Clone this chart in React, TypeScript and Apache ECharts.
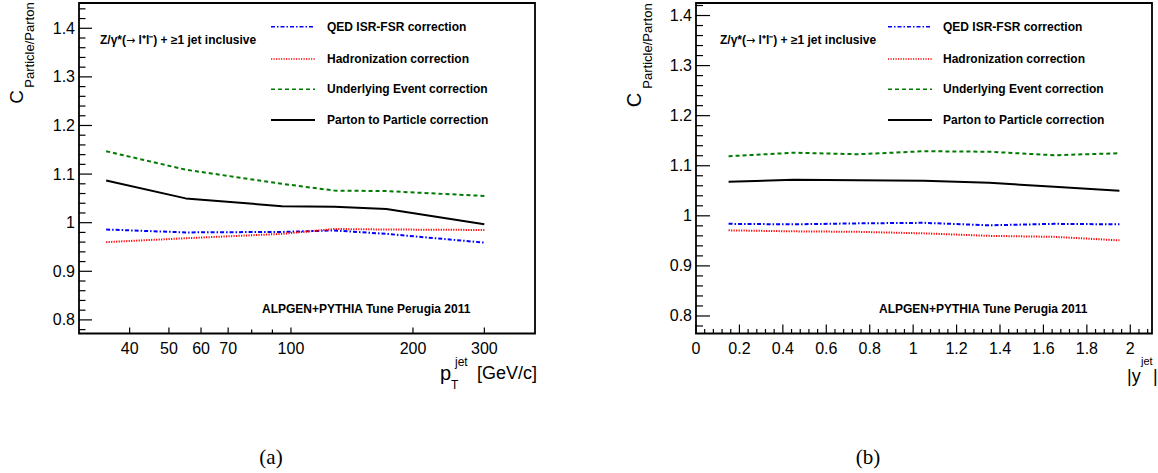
import React, { useEffect, useRef } from "react";
import * as echarts from "echarts";

// ---------- data: panel (a), vs jet pT ----------
const ptPoints = [35, 55, 95, 128, 172, 300];
const ptQED = [0.986, 0.980, 0.981, 0.984, 0.977, 0.959];
const ptHad = [0.960, 0.968, 0.977, 0.987, 0.986, 0.985];
const ptUE = [1.147, 1.109, 1.080, 1.066, 1.065, 1.055];
const ptP2P = [1.087, 1.050, 1.034, 1.033, 1.028, 0.997];

// ---------- data: panel (b), vs |y jet| ----------
const rapPoints = [0.15, 0.45, 0.75, 1.05, 1.35, 1.65, 1.95];
const rapQED = [0.984, 0.983, 0.985, 0.986, 0.981, 0.984, 0.983];
const rapHad = [0.971, 0.969, 0.968, 0.965, 0.960, 0.958, 0.951];
const rapUE = [1.119, 1.126, 1.123, 1.129, 1.128, 1.121, 1.125];
const rapP2P = [1.068, 1.072, 1.071, 1.070, 1.066, 1.058, 1.050];

// ---------- axis ticks ----------
const ptMajorTicks = [40, 50, 60, 70, 100, 200, 300];
const ptMinorTicks = [80, 90];
const rapMajorTicks = [0, 0.2, 0.4, 0.6, 0.8, 1, 1.2, 1.4, 1.6, 1.8, 2];
const yMajorTicks = [0.8, 0.9, 1, 1.1, 1.2, 1.3, 1.4];

const seriesNames = [
  "QED ISR-FSR correction",
  "Hadronization correction",
  "Underlying Event correction",
  "Parton to Particle correction",
];
const seriesColors = ["#0000ff", "#ff0000", "#007a00", "#000000"];
const seriesDash: any[] = [[4, 2, 1.5, 2], [1.2, 1.3], [4, 3], "solid"];

const L = { xMin: 30, xMax: 400, yMin: 0.772, yMax: 1.452 };
const R = { xMin: 0, xMax: 2.1, yMin: 0.765, yMax: 1.425 };

const SANS = "Liberation Sans, Arial, Helvetica, sans-serif";

function subdivide(majors: number[], n: number, lo: number, hi: number) {
  const step = (majors[1] - majors[0]) / n;
  const out: number[] = [];
  const start = majors[0] - Math.floor((majors[0] - lo) / step) * step;
  for (let v = start; v < hi - 1e-9; v += step) {
    const r = Math.round(v * 1000) / 1000;
    if (r <= lo + 1e-9) continue;
    if (!majors.some((m) => Math.abs(m - r) < 1e-6)) out.push(r);
  }
  return out;
}

function tickSeries(gridIdx: number, axis: "x" | "y", data: number[][]) {
  return {
    type: "custom",
    xAxisIndex: gridIdx,
    yAxisIndex: gridIdx,
    silent: true,
    clip: false,
    z: 10,
    encode: { x: 0, y: 1 },
    data,
    renderItem: (params: any, api: any) => {
      const v0 = api.value(0);
      const v1 = api.value(1);
      const len = api.value(2);
      const lab = api.value(3);
      const p = api.coord([v0, v1]);
      const children: any[] = [];
      if (axis === "x") {
        children.push({
          type: "line",
          shape: { x1: p[0], y1: p[1], x2: p[0], y2: p[1] - len },
          style: { stroke: "#000", lineWidth: 1.2 },
        });
        if (lab) {
          children.push({
            type: "text",
            x: p[0],
            y: p[1] + 7,
            style: {
              text: String(v0),
              font: `16px ${SANS}`,
              fill: "#000",
              align: "center",
              verticalAlign: "top",
            },
          });
        }
      } else {
        children.push({
          type: "line",
          shape: { x1: p[0], y1: p[1], x2: p[0] + len, y2: p[1] },
          style: { stroke: "#000", lineWidth: 1.2 },
        });
        if (lab) {
          children.push({
            type: "text",
            x: p[0] - 4,
            y: p[1],
            style: {
              text: String(v1),
              font: `16px ${SANS}`,
              fill: "#000",
              align: "right",
              verticalAlign: "middle",
            },
          });
        }
      }
      return { type: "group", children };
    },
  };
}

function lineSeries(gridIdx: number, xs: number[], ys: number[], i: number) {
  return {
    type: "line",
    name: seriesNames[i],
    xAxisIndex: gridIdx,
    yAxisIndex: gridIdx,
    showSymbol: false,
    symbol: "none",
    silent: true,
    data: xs.map((x, k) => [x, ys[k]]),
    lineStyle: { color: seriesColors[i], width: 2, type: seriesDash[i] },
  };
}

function legendGraphics(lineX1: number, lineX2: number, textX: number, rows: number[]) {
  const els: any[] = [];
  seriesNames.forEach((name, i) => {
    els.push({
      type: "line",
      shape: { x1: lineX1, y1: rows[i], x2: lineX2, y2: rows[i] },
      style: {
        stroke: seriesColors[i],
        lineWidth: i === 3 ? 2 : 1.6,
        lineDash: seriesDash[i] === "solid" ? null : seriesDash[i],
      },
    });
    els.push({
      type: "text",
      x: textX,
      y: rows[i],
      style: {
        text: name,
        font: `bold 12px ${SANS}`,
        fill: "#000",
        align: "left",
        verticalAlign: "middle",
      },
    });
  });
  return els;
}

function txt(x: number, y: number, text: string, font: string, opts: any = {}) {
  return {
    type: "text",
    x,
    y,
    rotation: opts.rotation || 0,
    style: {
      text,
      font,
      fill: "#000",
      align: opts.align || "left",
      verticalAlign: opts.verticalAlign || "middle",
    },
  };
}

function processText(x: number, y: number) {
  return {
    type: "text",
    x,
    y,
    style: {
      text: "{a|Z/γ*(}{b|→}{a| l⁺l⁻) + ≥1 jet inclusive}",
      fill: "#000",
      align: "left",
      verticalAlign: "middle",
      rich: {
        a: { font: `bold 12px ${SANS}`, fill: "#000" },
        b: { font: "11px DejaVu Sans, sans-serif", fill: "#000" },
      },
    },
  };
}

export default function App() {
  const ref = useRef<HTMLDivElement>(null);
  useEffect(() => {
    const chart = echarts.init(ref.current!, null, { renderer: "svg" });

    const yMinorL = subdivide(yMajorTicks, 5, L.yMin, L.yMax);
    const yMinorR = subdivide(yMajorTicks, 5, R.yMin, R.yMax);
    const rapMinor = subdivide(rapMajorTicks, 5, R.xMin - 0.001, R.xMax);

    const rows = [26.7, 59, 89.3, 120];

    const option: any = {
      animation: false,
      backgroundColor: "#fff",
      grid: [
        { left: 79, top: 3, width: 456, height: 330.5, show: true, borderColor: "#000", borderWidth: 1.8, backgroundColor: "transparent" },
        { left: 696, top: 3, width: 456, height: 330.5, show: true, borderColor: "#000", borderWidth: 1.8, backgroundColor: "transparent" },
      ],
      xAxis: [
        { type: "log", logBase: 10, gridIndex: 0, min: L.xMin, max: L.xMax, axisLine: { show: false }, axisTick: { show: false }, axisLabel: { show: false }, splitLine: { show: false } },
        { type: "value", gridIndex: 1, min: R.xMin, max: R.xMax, axisLine: { show: false }, axisTick: { show: false }, axisLabel: { show: false }, splitLine: { show: false } },
      ],
      yAxis: [
        { type: "value", gridIndex: 0, min: L.yMin, max: L.yMax, axisLine: { show: false }, axisTick: { show: false }, axisLabel: { show: false }, splitLine: { show: false } },
        { type: "value", gridIndex: 1, min: R.yMin, max: R.yMax, axisLine: { show: false }, axisTick: { show: false }, axisLabel: { show: false }, splitLine: { show: false } },
      ],
      series: [
        lineSeries(0, ptPoints, ptQED, 0),
        lineSeries(0, ptPoints, ptHad, 1),
        lineSeries(0, ptPoints, ptUE, 2),
        lineSeries(0, ptPoints, ptP2P, 3),
        lineSeries(1, rapPoints, rapQED, 0),
        lineSeries(1, rapPoints, rapHad, 1),
        lineSeries(1, rapPoints, rapUE, 2),
        lineSeries(1, rapPoints, rapP2P, 3),
        tickSeries(0, "x", [
          ...ptMajorTicks.map((v) => [v, L.yMin, 6, 1]),
          ...ptMinorTicks.map((v) => [v, L.yMin, 4, 0]),
        ]),
        tickSeries(0, "y", [
          ...yMajorTicks.map((v) => [L.xMin, v, 13, 1]),
          ...yMinorL.map((v) => [L.xMin, v, 6.5, 0]),
        ]),
        tickSeries(1, "x", [
          ...rapMajorTicks.map((v) => [v, R.yMin, 9, 1]),
          ...rapMinor.map((v) => [v, R.yMin, 4.5, 0]),
        ]),
        tickSeries(1, "y", [
          ...yMajorTicks.map((v) => [R.xMin, v, 14, 1]),
          ...yMinorR.map((v) => [R.xMin, v, 7, 0]),
        ]),
      ],
      graphic: [
        ...legendGraphics(271, 315, 327, rows),
        ...legendGraphics(888, 932, 943, rows),
        processText(100, 40),
        processText(720, 40),
        txt(262, 309, "ALPGEN+PYTHIA Tune Perugia 2011", `bold 12px ${SANS}`),
        txt(879, 309, "ALPGEN+PYTHIA Tune Perugia 2011", `bold 12px ${SANS}`),
        // y titles
        txt(16.5, 97, "C", `19px ${SANS}`, { rotation: Math.PI / 2, align: "center" }),
        txt(29, 45, "Particle/Parton", `13px ${SANS}`, { rotation: Math.PI / 2, align: "center" }),
        txt(634, 100, "C", `20px ${SANS}`, { rotation: Math.PI / 2, align: "center" }),
        txt(647, 46, "Particle/Parton", `13px ${SANS}`, { rotation: Math.PI / 2, align: "center" }),
        // x title (a)
        txt(440, 373, "p", `20px ${SANS}`),
        txt(455, 362, "jet", `12px ${SANS}`),
        txt(451, 385, "T", `12px ${SANS}`),
        txt(477, 373, "[GeV/c]", `18px ${SANS}`),
        // x title (b)
        txt(1127, 376, "|y", `18px ${SANS}`),
        txt(1141, 361, "jet", `11px ${SANS}`),
        txt(1153, 376, "|", `18px ${SANS}`),
        // panel labels
        txt(271, 457, "(a)", `21px Liberation Serif, Times New Roman, serif`, { align: "center" }),
        txt(868, 457, "(b)", `21px Liberation Serif, Times New Roman, serif`, { align: "center" }),
      ],
    };
    chart.setOption(option);
    return () => chart.dispose();
  }, []);
  return (
    <div
      ref={ref}
      style={{ position: "fixed", left: 0, top: 0, width: 1158, height: 473, background: "#fff" }}
    />
  );
}
